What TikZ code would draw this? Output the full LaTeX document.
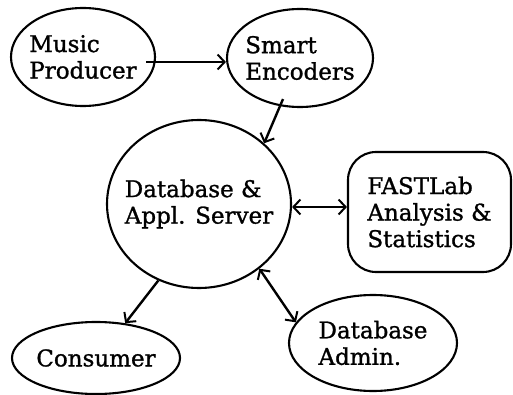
\documentclass[tikz,border=0pt]{standalone}
\usepackage{fontspec}
\setmainfont{DejaVu Serif}[FakeBold=1.2]
\usetikzlibrary{shapes.geometric,arrows.meta}
\begin{document}
\begin{tikzpicture}[x=1pt,y=-1pt,
  shp/.style={draw,line width=2.1pt,inner sep=0pt},
  ell/.style={shp,ellipse},
  txt/.style={inner sep=0pt,align=left,font=\fontsize{23}{26.5}\selectfont},
  arr/.style={line width=2.4pt,-{Straight Barb[length=7pt,width=15pt,line width=2pt]}},
  darr/.style={line width=2.4pt,{Straight Barb[length=7pt,width=15pt,line width=2pt]}-{Straight Barb[length=7pt,width=15pt,line width=2pt]}}]
\useasboundingbox (0,0) rectangle (513,395);
\node[ell,minimum width=144pt,minimum height=98pt] (mp) at (83,57) {};
\node[txt] (mpt) at (mp) {Music\\Producer};
\node[ell,minimum width=146pt,minimum height=98pt] (se) at (300,58) {};
\node[txt] (set) at (se) {Smart\\Encoders};
\node[ell,minimum width=184pt,minimum height=168pt] (db) at (199,204) {};
\node[txt] (dbt) at (db) {Database \&\\Appl. Server};
\node[shp,rounded corners=28pt,minimum width=163pt,minimum height=120pt] (fl) at (429.5,212) {};
\node[txt] (flt) at (fl) {FASTLab\\Analysis \&\\Statistics};
\node[ell,minimum width=168pt,minimum height=72pt] (cn) at (96,358) {};
\node[txt] (cnt) at (cn) {Consumer};
\node[ell,minimum width=168pt,minimum height=96pt] (da) at (373,343) {};
\node[txt] (dat) at (da) {Database\\Admin.};
\draw[arr] ([shift={(-10,5)}]mp.east) -- ([yshift=-4pt]se.west);
\draw[arr] ([shift={(-17,-9)}]se.south) -- (db.43);
\draw[darr] ([yshift=-3pt]db.east) -- ([yshift=5pt]fl.west);
\draw[arr] (db.242) -- (cn.50);
\draw[darr] (db.-47) -- (da.165);
\end{tikzpicture}
\end{document}
